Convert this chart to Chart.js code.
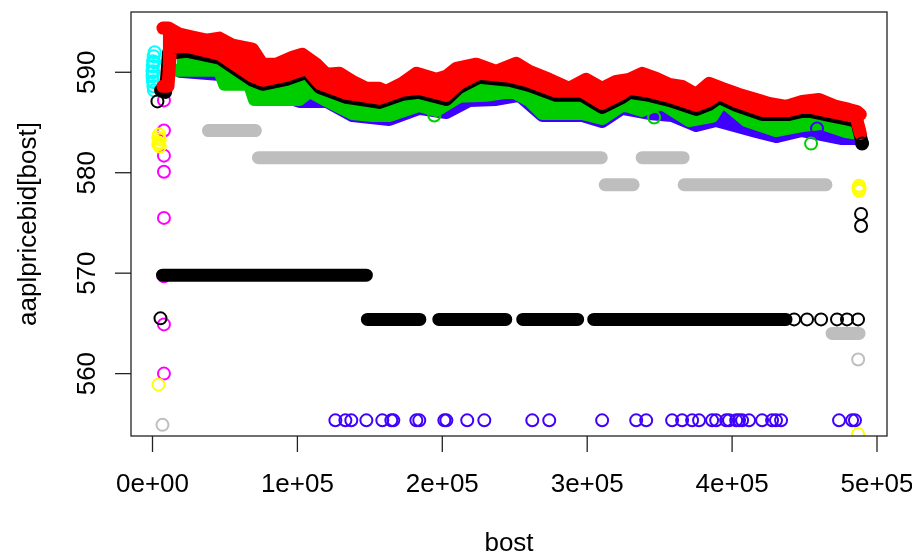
<!DOCTYPE html>
<html lang="en">
<head>
    <meta charset="UTF-8">
    <title>aaplpricebid[bost]</title>
    <script src="https://cdn.jsdelivr.net/npm/chart.js"></script>
    <style>
        html, body { margin: 0; padding: 0; background: #fff; }
        #wrap { width: 912px; height: 554px; }
    </style>
</head>
<body>
    <div id="wrap"><canvas id="bidChart" width="912" height="554"></canvas></div>

    <script>
        // axis ticks
        const xTicks = [0, 100000, 200000, 300000, 400000, 500000];
        const xTickLabels = ['0e+00', '1e+05', '2e+05', '3e+05', '4e+05', '5e+05'];
        const yTicks = [560, 570, 580, 590];
        const yTickLabels = ['560', '570', '580', '590'];

        const redTop = [[7200,594.4],[11000,594.4],[18600,593.8],[27600,593.5],[37200,593.2],[46200,593.4],[55200,592.7],[69000,592.3],[75900,590.8],[85500,590.8],[96600,591.5],[103400,591.8],[113100,590.8],[120000,589.8],[129000,589.9],[137900,589.1],[147600,588.4],[156600,588.4],[161400,588.1],[172400,588.9],[182100,589.9],[195900,589.3],[202800,589.6],[209700,590.4],[223400,590.8],[237200,590.1],[251000,590.9],[260000,590.1],[273800,589.3],[287600,588.4],[299300,589.3],[310300,588.4],[320000,589.1],[329000,589.3],[337900,589.9],[347600,589.4],[356600,588.8],[365500,588.6],[375200,587.8],[384100,588.9],[393100,588.4],[404800,587.8],[416600,587.3],[425500,586.9],[437200,586.6],[448300,587.1],[460000,587.3],[471700,586.6],[480700,586.3],[486000,586.1],[488500,585.8]];
        const redBottom = [[7200,588.6],[10700,588.6],[12500,592.5],[23400,592.6],[46200,591.8],[69000,589.6],[75900,589.2],[92400,589.7],[106200,590.4],[115200,588.9],[133800,587.9],[147600,587.6],[156600,587.4],[172400,588.2],[184100,588.4],[202800,587.7],[211700,588.9],[225500,589.9],[246200,589.6],[260000,589.1],[278600,588.1],[296600,588.1],[310300,586.9],[324100,587.9],[329000,588.4],[342800,588.1],[356600,587.6],[375200,586.7],[384100,587.2],[391000,587.9],[402800,587.1],[420700,586.2],[439300,586.2],[451000,586.6],[466900,586.1],[480700,585.7],[485500,585.6],[488500,583.9]];
        const blackBottom = [[5500,588.2],[9000,588.0],[11000,591.9],[23400,592.1],[46200,591.4],[69000,589.2],[75900,588.8],[92400,589.3],[106200,590.0],[115200,588.5],[133800,587.5],[147600,587.2],[156600,587.0],[172400,587.8],[184100,588.0],[202800,587.3],[211700,588.5],[225500,589.5],[246200,589.2],[260000,588.7],[278600,587.7],[296600,587.7],[310300,586.5],[324100,587.5],[329000,588.0],[342800,587.7],[356600,587.2],[375200,586.3],[384100,586.8],[391000,587.5],[402800,586.7],[420700,585.8],[439300,585.8],[451000,586.2],[466900,585.7],[480700,585.3],[486000,585.1],[489700,583.0]];
        const greenBottom = [[16600,590.2],[46200,590.2],[49700,588.8],[66900,588.8],[70300,587.3],[101400,587.3],[108300,588.1],[120000,587.2],[137900,585.9],[151700,585.7],[163400,585.7],[184100,586.7],[195900,586.2],[211700,587.6],[230300,587.7],[248300,588.1],[260000,587.2],[269000,585.9],[296600,585.9],[310300,585.4],[324100,586.7],[329000,586.6],[337900,586.2],[351700,586.9],[370300,585.2],[386200,585.6],[393100,587.2],[409700,585.2],[430300,584.2],[448300,584.7],[462100,584.9],[478600,584.1],[487600,583.9]];
        const blueBottom = [[18600,590.1],[53100,589.7],[66900,588.7],[101400,587.1],[120000,587.1],[137900,585.7],[163400,585.3],[184100,586.4],[202800,586.0],[218600,587.2],[237200,587.3],[253100,587.7],[269000,585.7],[296600,585.7],[310300,585.1],[324100,586.4],[342800,585.9],[358600,585.7],[375200,584.7],[388900,585.2],[416600,584.1],[430300,583.6],[448300,584.2],[475900,583.4],[485500,583.4]];

        // flat runs of repeated prices: [xStart, xEnd, price]
        const blackRuns = [[6900,147600,569.8],[148300,184500,565.4],[197600,243800,565.4],[255500,293400,565.4],[304500,437200,565.4]];
        const grayRuns = [[38600,71000,584.2],[73100,309700,581.5],[337900,366200,581.5],[312400,331700,578.8],[366900,464800,578.8],[469000,487600,564.0]];

        // single circles
        const blackPts = [[3400,587.1],[5500,565.5],[442800,565.4],[451700,565.4],[461400,565.4],[472400,565.4],[479300,565.4],[486900,565.4],[489700,582.9],[489000,575.9],[489000,574.7]];
        const grayPts = [[487000,561.4],[6900,554.9]];
        const blueRowX = [126200,133100,137200,147600,158600,164800,166200,182100,184100,201400,202800,217200,229000,262100,273800,310300,333800,340700,358600,365500,372400,377200,386200,389000,395900,397900,402800,404800,406900,411700,420700,427600,430300,433800,473800,482800,484800];
        const blueRowPrice = 555.35;
        const bluePts = [[458600,584.4]];
        const greenPts = [[194500,585.7],[346200,585.5],[454500,582.9]];
        const magentaX = 7900;
        const magentaY = [587.2,584.2,581.7,580.1,575.5,569.7,564.9,560.0];
        const yellowPts = [[4500,583.8],[4000,583.5],[5000,583.3],[4500,583.0],[4000,582.8],[5000,582.6],[4100,558.9],[487600,578.7],[487200,578.5],[488000,578.4],[487600,578.2],[486900,554.0]];
        const cyanPts = [[1500,592.0],[800,591.6],[400,591.1],[200,590.6],[0,590.1],[0,589.6],[300,589.1],[600,588.6],[1000,588.2],[500,590.0],[900,589.0],[1200,591.0]];

        const RED = '#ff0000', BLACK = '#000000', GREEN = '#00cd00', BLUE = '#4000ff',
              CYAN = '#00ffff', MAGENTA = '#ff00ff', YELLOW = '#ffff00', GRAY = '#bebebe';

        const toXY = arr => arr.map(p => ({x: p[0], y: p[1]}));
        const runsToXY = runs => {
            const out = [];
            runs.forEach(r => {
                out.push({x: r[0], y: r[2]}, {x: r[1], y: r[2]}, {x: r[1], y: null});
            });
            return out;
        };

        function band(label, data, color, order, fill) {
            return {
                label: label, data: toXY(data), order: order,
                borderColor: color, backgroundColor: color,
                borderWidth: 13, borderCapStyle: 'round', borderJoinStyle: 'round',
                pointRadius: 0, fill: fill, clip: 0, tension: 0
            };
        }
        function runs(label, data, color, order) {
            return {
                label: label, data: runsToXY(data), order: order,
                borderColor: color, borderWidth: 13, borderCapStyle: 'round',
                pointRadius: 0, fill: false, spanGaps: false, clip: 0
            };
        }
        function circles(label, data, color, order) {
            return {
                label: label, data: data, order: order, showLine: false,
                pointRadius: 6, pointBorderWidth: 2, pointBorderColor: color,
                pointBackgroundColor: 'rgba(0,0,0,0)', clip: 0
            };
        }

        const datasets = [
            band('red top', redTop, RED, 1, false),
            band('red', redBottom, RED, 1, 0),
            band('black', blackBottom, BLACK, 2, 0),
            band('green', greenBottom, GREEN, 3, 0),
            band('blue', blueBottom, BLUE, 4, 0),
            runs('black runs', blackRuns, BLACK, 6),
            runs('gray runs', grayRuns, GRAY, 7),
            circles('cyan', toXY(cyanPts), CYAN, 20),
            circles('magenta', magentaY.map(y => ({x: magentaX, y: y})), MAGENTA, 8),
            circles('black pts', toXY(blackPts), BLACK, 0),
            circles('gray pts', toXY(grayPts), GRAY, 0),
            circles('blue row', blueRowX.map(x => ({x: x, y: blueRowPrice})).concat(toXY(bluePts)), BLUE, 0),
            circles('green pts', toXY(greenPts), GREEN, 0),
            circles('yellow', toXY(yellowPts), YELLOW, 0)
        ];

        const FONT = '26px "Liberation Sans", Arial, sans-serif';

        // R-style box, ticks and labels
        const rAxes = {
            id: 'rAxes',
            afterDraw(chart) {
                const ctx = chart.ctx, a = chart.chartArea;
                const xs = chart.scales.x, ys = chart.scales.y;
                ctx.save();
                ctx.strokeStyle = '#222';
                ctx.lineWidth = 1.3;
                ctx.strokeRect(a.left, a.top, a.right - a.left, a.bottom - a.top);
                ctx.fillStyle = '#000';
                ctx.font = FONT;

                xTicks.forEach((v, i) => {
                    const px = xs.getPixelForValue(v);
                    ctx.beginPath();
                    ctx.moveTo(px, a.bottom);
                    ctx.lineTo(px, a.bottom + 16);
                    ctx.stroke();
                    ctx.textAlign = 'center';
                    ctx.textBaseline = 'alphabetic';
                    ctx.fillText(xTickLabels[i], px, 492);
                });
                yTicks.forEach((v, i) => {
                    const py = ys.getPixelForValue(v);
                    ctx.beginPath();
                    ctx.moveTo(a.left, py);
                    ctx.lineTo(a.left - 16, py);
                    ctx.stroke();
                    ctx.save();
                    ctx.translate(95, py);
                    ctx.rotate(-Math.PI / 2);
                    ctx.textAlign = 'center';
                    ctx.textBaseline = 'alphabetic';
                    ctx.fillText(yTickLabels[i], 0, 0);
                    ctx.restore();
                });

                ctx.textAlign = 'center';
                ctx.fillText('bost', (a.left + a.right) / 2, 551);
                ctx.save();
                ctx.translate(36, (a.top + a.bottom) / 2);
                ctx.rotate(-Math.PI / 2);
                ctx.fillText('aaplpricebid[bost]', 0, 0);
                ctx.restore();
                ctx.restore();
            }
        };

        new Chart(document.getElementById('bidChart'), {
            type: 'line',
            data: { datasets: datasets },
            options: {
                responsive: false,
                animation: false,
                devicePixelRatio: 1,
                layout: { padding: { left: 131, top: 12, right: 25, bottom: 118 } },
                scales: {
                    x: { type: 'linear', display: false, min: -14838, max: 506900 },
                    y: { type: 'linear', display: false, min: 553.79, max: 596.0 }
                },
                plugins: {
                    legend: { display: false },
                    tooltip: { enabled: false }
                }
            },
            plugins: [rAxes]
        });
    </script>
</body>
</html>
